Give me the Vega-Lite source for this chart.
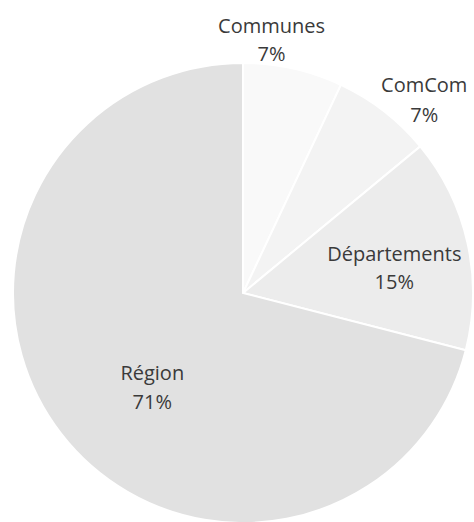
{
  "$schema": "https://vega.github.io/schema/vega-lite/v6.json",
  "width": 462,
  "height": 458,
  "autosize": {"type": "none"},
  "padding": {"left": 12, "top": 64, "right": 0, "bottom": 0},
  "background": "white",
  "view": {"stroke": null},
  "data": {
    "values": [
      {"cat": "Communes", "share": 7, "label": "Communes\n7%"},
      {"cat": "ComCom", "share": 7, "label": "ComCom\n7%"},
      {"cat": "Départements", "share": 15, "label": "Départements\n15%"},
      {"cat": "Région", "share": 71, "label": "Région\n71%"}
    ]
  },
  "encoding": {
    "theta": {"field": "share", "type": "quantitative", "stack": true},
    "order": {"field": "share", "type": "quantitative", "sort": "ascending"}
  },
  "layer": [
    {
      "mark": {"type": "arc", "outerRadius": 230, "stroke": "white", "strokeWidth": 2},
      "encoding": {
        "color": {
          "field": "cat",
          "type": "nominal",
          "sort": ["Communes", "ComCom", "Départements", "Région"],
          "scale": {"domain": ["Communes", "ComCom", "Départements", "Région"], "range": ["#f9f9f9", "#f3f3f3", "#ececec", "#e1e1e1"]},
          "legend": null
        }
      }
    },
    {
      "mark": {"type": "text", "radius": 259, "dx": -28, "dy": -13, "font": "Open Sans", "fontSize": 20, "lineHeight": 28, "lineBreak": "\n", "color": "#3a3a3a", "align": "center", "baseline": "middle"},
      "encoding": {"text": {"condition": {"test": "datum.cat === 'Communes'", "field": "label", "type": "nominal"}, "value": ""}}
    },
    {
      "mark": {"type": "text", "radius": 263, "dx": 20, "dy": 1, "font": "Open Sans", "fontSize": 20, "lineHeight": 30, "lineBreak": "\n", "color": "#3a3a3a", "align": "center", "baseline": "middle"},
      "encoding": {"text": {"condition": {"test": "datum.cat === 'ComCom'", "field": "label", "type": "nominal"}, "value": ""}}
    },
    {
      "mark": {"type": "text", "radius": 153, "dx": 2, "dy": -5, "font": "Open Sans", "fontSize": 20, "lineHeight": 28, "lineBreak": "\n", "color": "#3a3a3a", "align": "center", "baseline": "middle"},
      "encoding": {"text": {"condition": {"test": "datum.cat === 'Départements'", "field": "label", "type": "nominal"}, "value": ""}}
    },
    {
      "mark": {"type": "text", "radius": 130, "dx": 12, "dy": 1, "font": "Open Sans", "fontSize": 20, "lineHeight": 29, "lineBreak": "\n", "color": "#3a3a3a", "align": "center", "baseline": "middle"},
      "encoding": {"text": {"condition": {"test": "datum.cat === 'Région'", "field": "label", "type": "nominal"}, "value": ""}}
    }
  ]
}
